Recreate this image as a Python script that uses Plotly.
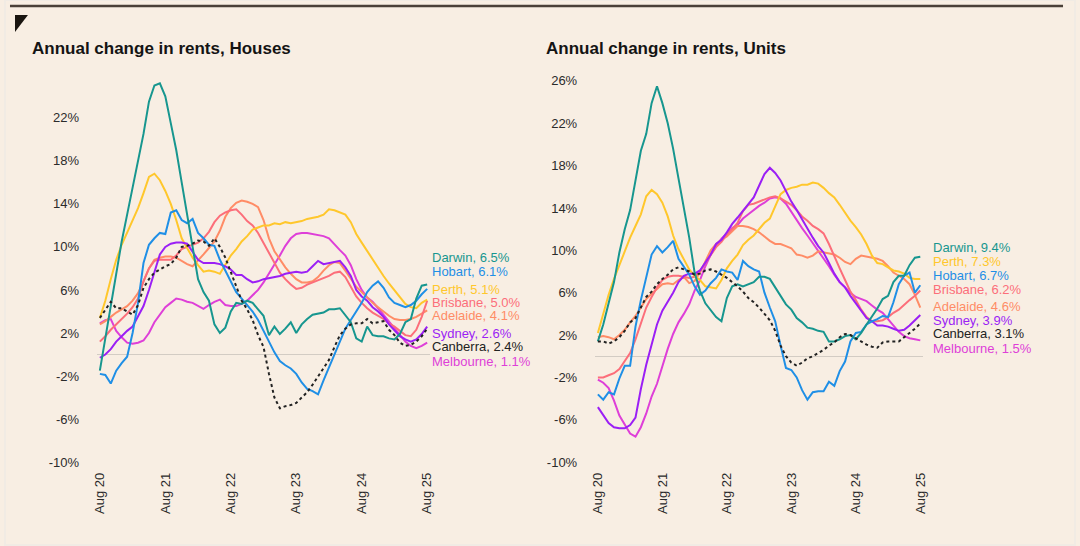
import plotly.graph_objects as go

W, H = 1080, 546

months = list(range(61))
tick_pos = [0, 12, 24, 36, 48, 60]
tick_text = ["Aug 20", "Aug 21", "Aug 22", "Aug 23", "Aug 24", "Aug 25"]

cities = ["Darwin", "Hobart", "Perth", "Brisbane", "Adelaide", "Sydney", "Canberra", "Melbourne"]

# ---------------- Houses (annual % change) ----------------
houses_darwin = [-1.5, 1.5, 4.5, 7.5, 10.5, 13.0, 15.5, 18.0, 20.5, 23.5, 25.0, 25.2, 24.0, 21.5, 19.0, 16.0,
                 13.0, 10.0, 7.0, 5.8, 5.0, 2.8, 2.0, 2.5, 4.0, 4.8, 4.7, 5.0, 4.8, 4.2, 3.6, 1.8, 2.6, 1.9,
                 2.4, 3.0, 2.0, 2.8, 3.3, 3.7, 3.8, 3.9, 4.2, 4.2, 4.3, 3.6, 3.0, 1.5, 1.2, 2.6, 1.8, 1.7, 1.7,
                 1.5, 1.4, 1.9, 3.0, 3.3, 5.2, 6.4, 6.5]
houses_hobart = [-1.8, -1.9, -2.7, -1.5, -0.8, -0.2, 2.0, 4.8, 8.5, 10.2, 10.8, 11.3, 11.2, 13.2, 13.4, 12.5,
                 12.2, 12.6, 11.3, 10.8, 10.2, 10.1, 8.8, 7.8, 6.8, 5.8, 5.2, 4.6, 4.0, 3.2, 2.2, 1.2, 0.2,
                 -0.6, -1.0, -1.3, -1.8, -2.6, -3.2, -3.4, -3.7, -2.4, -1.2, 0.0, 1.3, 2.4, 3.2, 4.0, 4.8,
                 5.8, 6.4, 6.8, 6.2, 5.3, 4.8, 4.6, 4.4, 4.6, 5.0, 5.6, 6.1]
houses_perth = [3.4, 5.0, 7.0, 8.8, 10.2, 11.3, 12.5, 13.6, 15.0, 16.5, 16.8, 16.2, 15.2, 14.0, 12.5, 10.8,
                9.9, 9.0, 8.3, 7.7, 7.8, 7.7, 7.5, 8.4, 9.2, 9.8, 10.5, 11.0, 11.6, 11.8, 12.0, 12.0, 12.2,
                12.1, 12.3, 12.2, 12.3, 12.4, 12.6, 12.7, 12.8, 13.0, 13.5, 13.4, 13.2, 13.0, 12.3, 11.2,
                10.4, 9.6, 8.8, 8.1, 7.3, 6.6, 6.0, 5.4, 4.7, 4.4, 4.3, 4.8, 5.1]
houses_brisbane = [1.2, 1.7, 2.3, 2.8, 3.3, 3.8, 4.4, 5.2, 6.8, 8.0, 8.7, 8.8, 8.8, 8.8, 9.2, 9.8, 10.0,
                   10.2, 10.4, 10.8, 11.4, 12.3, 12.9, 13.2, 13.4, 13.5, 13.0, 12.4, 12.0, 11.3, 10.4, 9.4,
                   8.5, 7.6, 7.0, 6.5, 6.1, 6.2, 6.5, 6.7, 6.9, 7.1, 7.3, 7.6, 7.7, 7.2, 6.3, 5.4, 4.8, 4.3,
                   3.9, 3.6, 3.3, 2.9, 2.6, 2.2, 1.8, 1.7, 2.3, 3.5, 5.0]
houses_adelaide = [2.8, 3.1, 3.5, 3.9, 4.2, 4.5, 5.0, 5.7, 6.8, 8.0, 8.8, 9.0, 9.1, 9.1, 9.0, 8.7, 8.4,
                   8.2, 8.7, 9.3, 9.9, 10.5, 11.5, 12.8, 13.6, 14.1, 14.3, 14.2, 14.0, 13.7, 12.5, 10.8,
                   9.6, 8.8, 8.1, 7.5, 7.0, 6.7, 6.7, 6.8, 7.2, 7.8, 8.3, 8.6, 8.5, 7.8, 7.0, 6.3, 5.8, 5.3,
                   4.8, 4.4, 4.0, 3.6, 3.3, 3.2, 3.2, 3.3, 3.5, 3.8, 4.1]
houses_sydney = [-0.3, 0.0, 0.5, 1.2, 1.7, 2.2, 2.6, 3.5, 4.5, 6.0, 7.6, 9.3, 10.0, 10.3, 10.4, 10.4,
                 10.3, 9.6, 8.8, 8.5, 8.5, 8.5, 8.4, 8.2, 7.9, 7.4, 7.4, 7.0, 6.7, 6.8, 7.0, 7.1, 7.2, 7.3,
                 7.5, 7.6, 7.7, 7.6, 7.7, 8.2, 8.7, 8.4, 8.5, 8.6, 8.7, 8.1, 7.3, 6.0, 5.4, 5.0, 4.4, 4.0,
                 3.5, 2.8, 2.2, 1.7, 1.4, 1.2, 1.4, 1.9, 2.6]
houses_canberra = [3.4, 4.2, 4.9, 4.3, 4.3, 4.0, 3.7, 4.6, 6.2, 7.0, 7.6, 7.9, 8.2, 8.4, 9.0, 10.0, 10.1,
                   10.3, 10.6, 10.5, 10.1, 10.8, 10.0, 9.0, 7.6, 6.2, 5.0, 4.2, 3.2, 1.8, 0.7, -1.8, -4.0,
                   -5.0, -4.8, -4.7, -4.5, -4.0, -3.5, -2.8, -2.0, -1.3, -0.5, 0.7, 1.8, 2.4, 2.8, 2.9, 2.9,
                   3.3, 2.9, 3.0, 3.1, 2.3, 1.8, 1.1, 0.8, 0.9, 1.2, 1.7, 2.4]
houses_melbourne = [2.9, 3.2, 3.3, 2.2, 1.6, 1.1, 1.0, 1.1, 1.3, 2.0, 3.0, 3.7, 4.4, 4.8, 5.2, 5.1, 4.9,
                    4.8, 4.5, 4.25, 4.6, 4.9, 5.1, 4.6, 4.5, 4.5, 4.7, 5.0, 5.5, 6.0, 6.7, 7.5, 8.3, 9.2,
                    10.1, 10.8, 11.2, 11.3, 11.3, 11.2, 11.1, 11.0, 10.8, 10.2, 9.7, 9.2, 8.3, 7.0, 6.0, 5.3,
                    4.9, 4.3, 3.7, 3.1, 2.5, 1.9, 1.2, 0.8, 0.6, 0.8, 1.1]

# ---------------- Units (annual % change) ----------------
units_darwin = [1.4, 3.0, 5.0, 7.0, 9.8, 12.0, 13.8, 16.5, 19.4, 21.0, 23.9, 25.5, 23.9, 22.0, 19.6, 16.8,
                14.0, 11.2, 7.9, 6.2, 5.0, 4.3, 3.7, 3.3, 5.5, 6.6, 6.8, 6.6, 6.8, 7.0, 7.5, 7.5, 7.3, 6.5,
                5.6, 4.9, 4.4, 3.6, 3.2, 2.7, 2.6, 2.4, 2.3, 1.4, 1.4, 1.6, 1.9, 2.0, 1.6, 2.2, 3.0, 3.7,
                4.5, 5.4, 5.7, 7.0, 7.6, 7.6, 8.6, 9.3, 9.4]
units_hobart = [-3.6, -4.1, -3.4, -3.6, -2.1, -0.9, -0.9, 2.8, 5.3, 7.5, 9.6, 10.4, 9.8, 10.3, 10.9, 9.2,
                8.5, 7.7, 6.6, 5.8, 6.2, 6.9, 7.4, 8.2, 8.0, 7.9, 7.2, 9.0, 8.5, 8.2, 8.0, 6.0, 4.6, 3.3,
                1.0, -1.1, -1.3, -2.0, -3.2, -4.1, -3.4, -3.3, -3.3, -2.4, -2.8, -1.4, -0.5, 1.4, 2.2, 2.3,
                3.0, 3.3, 3.5, 3.8, 3.7, 5.1, 6.8, 7.6, 7.9, 6.0, 6.7]
units_perth = [2.2, 4.0, 5.8, 7.3, 8.6, 10.0, 11.2, 12.3, 13.4, 15.1, 15.7, 15.3, 14.5, 13.2, 11.4, 10.1,
               9.2, 8.2, 7.6, 7.2, 6.6, 6.5, 6.4, 7.2, 8.3, 9.0, 9.6, 10.5, 11.0, 11.4, 12.0, 12.6, 13.0,
               14.2, 15.3, 15.7, 15.9, 16.0, 16.2, 16.2, 16.4, 16.3, 15.9, 15.4, 15.0, 14.3, 13.5, 12.8,
               12.2, 11.5, 10.6, 9.5, 8.8, 8.7, 8.4, 8.1, 8.0, 7.8, 7.4, 7.3, 7.3]
units_brisbane = [-2.0, -2.0, -1.8, -1.6, -1.2, -0.5, 0.3, 1.6, 3.2, 4.6, 5.6, 6.5, 7.2, 7.5, 7.6, 7.6,
                  7.5, 7.4, 7.5, 8.0, 8.8, 9.6, 10.3, 10.8, 11.5, 12.0, 12.6, 13.7, 14.3, 14.4, 14.6, 14.8,
                  15.0, 15.1, 14.9, 14.6, 14.3, 13.8, 13.2, 12.8, 12.3, 12.0, 11.6, 10.6, 9.4, 8.3, 7.2, 6.1,
                  5.3, 4.4, 3.7, 3.3, 3.3, 3.4, 3.7, 4.1, 4.4, 4.9, 5.3, 5.7, 6.2]
units_adelaide = [1.8, 1.9, 1.8, 1.6, 2.0, 2.5, 3.2, 3.8, 4.6, 5.4, 5.9, 6.4, 6.8, 6.9, 6.8, 7.2, 7.5,
                  6.9, 7.1, 7.9, 9.0, 10.0, 10.6, 11.0, 11.3, 11.8, 12.3, 12.3, 12.2, 12.0, 11.7, 11.3, 10.9,
                  10.6, 10.6, 10.4, 10.2, 9.6, 9.5, 9.3, 9.5, 9.9, 9.8, 9.7, 9.6, 9.3, 8.9, 8.7, 9.2, 9.5,
                  9.4, 9.3, 9.2, 9.0, 8.5, 7.9, 7.6, 7.3, 6.8, 5.8, 4.6]
units_sydney = [-4.8, -5.5, -6.3, -6.7, -6.8, -6.8, -6.5, -5.8, -3.1, -0.8, 1.2, 3.0, 4.3, 5.1, 6.0, 7.0,
                7.6, 7.8, 7.8, 8.1, 8.8, 9.6, 10.6, 11.0, 11.7, 12.5, 13.1, 13.7, 14.4, 15.0, 16.1, 17.2,
                17.8, 17.3, 16.6, 15.6, 14.6, 13.8, 12.9, 12.0, 11.2, 10.4, 9.8, 8.8, 7.8, 7.0, 6.5, 5.7,
                5.0, 4.3, 3.6, 3.3, 2.9, 2.9, 2.8, 2.6, 2.4, 2.5, 2.9, 3.4, 3.9]
units_canberra = [1.4, 1.4, 1.2, 1.4, 1.8, 2.4, 3.2, 3.6, 4.6, 5.6, 6.1, 6.8, 7.3, 7.7, 8.2, 8.4, 8.2,
                  8.0, 7.7, 7.8, 8.1, 8.2, 8.0, 7.7, 7.4, 7.0, 6.6, 6.1, 5.5, 5.1, 4.6, 4.0, 3.4, 2.4, 1.0,
                  0.0, -0.6, -0.9, -0.6, -0.2, 0.0, 0.3, 0.6, 1.0, 1.3, 1.8, 2.1, 2.0, 1.7, 1.4, 1.1, 0.9,
                  0.8, 1.3, 1.4, 1.4, 1.4, 1.8, 2.2, 2.6, 3.1]
units_melbourne = [-2.2, -2.5, -3.0, -4.2, -5.6, -6.5, -7.3, -7.6, -6.7, -5.4, -3.8, -2.6, -0.9, 0.7, 2.1,
                   3.2, 4.0, 4.9, 6.2, 7.2, 8.5, 9.6, 10.4, 11.1, 11.6, 12.1, 12.4, 13.0, 13.4, 13.8, 14.2,
                   14.5, 14.9, 15.0, 14.9, 14.4, 13.6, 12.9, 12.1, 11.4, 10.7, 10.0, 9.3, 8.5, 7.7, 7.0, 6.5,
                   6.0, 5.6, 5.4, 5.2, 4.8, 4.4, 4.1, 3.5, 2.9, 2.3, 1.9, 1.7, 1.6, 1.5]

houses = {"Darwin": houses_darwin, "Hobart": houses_hobart, "Perth": houses_perth,
          "Brisbane": houses_brisbane, "Adelaide": houses_adelaide, "Sydney": houses_sydney,
          "Canberra": houses_canberra, "Melbourne": houses_melbourne}
units = {"Darwin": units_darwin, "Hobart": units_hobart, "Perth": units_perth,
         "Brisbane": units_brisbane, "Adelaide": units_adelaide, "Sydney": units_sydney,
         "Canberra": units_canberra, "Melbourne": units_melbourne}

houses_yticks = [-10, -6, -2, 2, 6, 10, 14, 18, 22]
units_yticks = [-10, -6, -2, 2, 6, 10, 14, 18, 22, 26]

# ---------------- styling ----------------
BG = "#f8eee3"
FONT = "Liberation Sans, Arial, sans-serif"
colors = {"Darwin": "#17968f", "Hobart": "#1f8fe6", "Perth": "#ffc72c", "Brisbane": "#fc6e7a",
          "Adelaide": "#ff8c66", "Sydney": "#9b1ff5", "Canberra": "#222222", "Melbourne": "#de3fd8"}
draw_order = ["Melbourne", "Adelaide", "Brisbane", "Perth", "Sydney", "Hobart", "Darwin", "Canberra"]

# label vertical positions (in axis units) for the end-of-line labels
houses_label_y = {"Darwin": 8.97, "Hobart": 7.76, "Perth": 6.05, "Brisbane": 4.80, "Adelaide": 3.59,
                  "Sydney": 1.92, "Canberra": 0.71, "Melbourne": -0.63}
units_label_y = {"Darwin": 10.25, "Perth": 8.90, "Hobart": 7.62, "Brisbane": 6.26, "Adelaide": 4.66,
                 "Sydney": 3.38, "Canberra": 2.16, "Melbourne": 0.74}


def px_x(p):
    # horizontal pixel position -> paper fraction (compensates rendering offset)
    return ((p - 4) / 0.9926) / W


def px_y(p):
    return 1 - p / H


fig = go.Figure()

for data, xa, ya in [(houses, "x", "y"), (units, "x2", "y2")]:
    for c in draw_order:
        fig.add_trace(go.Scatter(
            x=months, y=data[c], mode="lines", xaxis=xa, yaxis=ya,
            line=dict(color=colors[c], width=2, dash="dot" if c == "Canberra" else "solid"),
            showlegend=False, hoverinfo="skip"))


def yaxis_cfg(ticks, rng):
    return dict(
        range=rng, tickvals=ticks, ticktext=[f"{t}%" for t in ticks],
        showgrid=False, zeroline=True, zerolinecolor="#d3ccc4", zerolinewidth=1,
        showline=False, ticks="", ticklabelstandoff=17,
        tickfont=dict(family=FONT, size=13, color="#2b2b2b"), fixedrange=True)


def xaxis_cfg():
    return dict(
        range=[-0.5, 60.5], tickvals=tick_pos, ticktext=tick_text, tickangle=-90,
        showgrid=False, zeroline=False, showline=False, ticks="",
        tickfont=dict(family=FONT, size=13, color="#2b2b2b"), fixedrange=True)


ydom = [px_y(470), px_y(70)]
fig.update_layout(
    width=W, height=H, paper_bgcolor=BG, plot_bgcolor=BG,
    margin=dict(l=0, r=0, t=0, b=0), showlegend=False,
    xaxis=dict(domain=[px_x(96.3), px_x(429.7)], anchor="y", **xaxis_cfg()),
    yaxis=dict(domain=ydom, anchor="x", **yaxis_cfg(houses_yticks, [-10.65, 26.45])),
    xaxis2=dict(domain=[px_x(595.3), px_x(923.7)], anchor="y2", **xaxis_cfg()),
    yaxis2=dict(domain=ydom, anchor="x2", **yaxis_cfg(units_yticks, [-10.66, 27.04])),
)

annotations = []
for c in cities:
    annotations.append(dict(
        x=px_x(430), xref="paper", y=houses_label_y[c], yref="y",
        text=f"{c}, {houses[c][-1]:.1f}%", showarrow=False, xanchor="left", yanchor="middle",
        font=dict(family=FONT, size=13, color=colors[c])))
    annotations.append(dict(
        x=px_x(932), xref="paper", y=units_label_y[c], yref="y2",
        text=f"{c}, {units[c][-1]:.1f}%", showarrow=False, xanchor="left", yanchor="middle",
        font=dict(family=FONT, size=13, color=colors[c])))

annotations.append(dict(x=px_x(29), y=px_y(49), xref="paper", yref="paper",
                        text="<b>Annual change in rents, Houses</b>", showarrow=False,
                        xanchor="left", yanchor="middle",
                        font=dict(family=FONT, size=17, color="#141414")))
annotations.append(dict(x=px_x(544), y=px_y(49), xref="paper", yref="paper",
                        text="<b>Annual change in rents, Units</b>", showarrow=False,
                        xanchor="left", yanchor="middle",
                        font=dict(family=FONT, size=17, color="#141414")))
fig.update_layout(annotations=annotations)

shapes = [
    dict(type="line", xref="paper", yref="paper", x0=px_x(9), x1=px_x(1064), y0=px_y(6), y1=px_y(6),
         line=dict(color="#4a4038", width=2.5)),
    dict(type="path", xref="paper", yref="paper",
         path=f"M {px_x(14)} {px_y(15)} L {px_x(27)} {px_y(15)} L {px_x(14)} {px_y(32)} Z",
         fillcolor="#1a1510", line=dict(width=0)),
    dict(type="rect", xref="paper", yref="paper", x0=0, x1=1, y0=0, y1=1,
         line=dict(color="#f1ebe4", width=2), fillcolor="rgba(0,0,0,0)"),
]
fig.update_layout(shapes=shapes)

fig.write_html("out.html")
